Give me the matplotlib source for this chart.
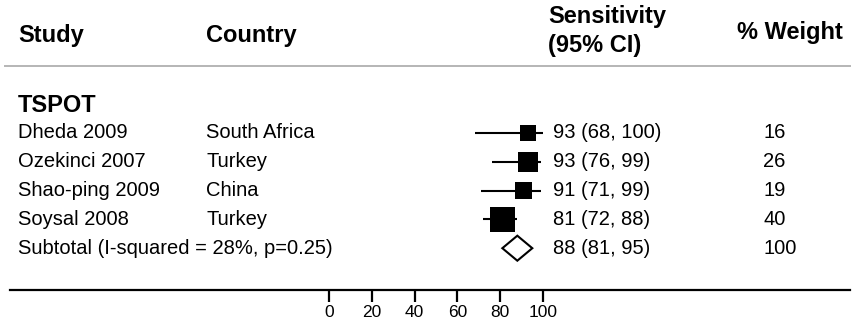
#!/usr/bin/env python3
"""Forest plot: TSPOT sensitivity by study."""

import matplotlib
matplotlib.use("Agg")
import matplotlib.pyplot as plt
from matplotlib.patches import Polygon
from matplotlib.transforms import blended_transform_factory

plt.rcParams["font.family"] = ["Liberation Sans", "DejaVu Sans"]

studies = ["Dheda 2009", "Ozekinci 2007", "Shao-ping 2009", "Soysal 2008"]
countries = ["South Africa", "Turkey", "China", "Turkey"]
sens = [93, 93, 91, 81]
ci_low = [68, 76, 71, 72]
ci_high = [100, 99, 99, 88]
weights = [16, 26, 19, 40]

group = "TSPOT"
subtotal_label = "Subtotal (I-squared = 28%, p=0.25)"
subtotal = (88, 81, 95)
subtotal_weight = 100
xticks = [0, 20, 40, 60, 80, 100]

W, H, DPI = 855, 324, 100
fig = plt.figure(figsize=(W / DPI, H / DPI), dpi=DPI)
# full-width axes; bottom spine is the scale line
ax = fig.add_axes([10 / W, 34 / H, 840 / W, 290 / H])

# 0 -> 329 px, 100 -> 543 px
px_per_unit = 2.14
ax.set_xlim((10 - 329) / px_per_unit, (850 - 329) / px_per_unit)
row_h = 28.8
ax.set_ylim((290 - 133) / row_h, -133 / row_h)


def row_of(px):
    return (px - 133) / row_h


rows = list(range(len(studies)))
sub_row = len(studies)

# confidence intervals and weighted squares
ax.hlines(rows, ci_low, ci_high, color="black", lw=1.5, zorder=2)
side_pt = [2.88 * w ** 0.5 for w in weights]
ax.scatter(sens, rows, marker="s", s=[s * s for s in side_pt], color="black",
           linewidths=0, zorder=3)

# pooled diamond
est, lo, hi = subtotal
half_h = 12.5 / row_h
ax.add_patch(Polygon([(lo, sub_row), (est, sub_row - half_h), (hi, sub_row),
                      (est, sub_row + half_h)], closed=True, facecolor="white",
                     edgecolor="black", lw=1.5, zorder=3))

# scale line
for side in ["top", "left", "right"]:
    ax.spines[side].set_visible(False)
ax.spines["bottom"].set_linewidth(1.6)
ax.set_yticks([])
ax.set_xticks(xticks)
ax.tick_params(axis="x", length=8.5, width=1.6, pad=2.5, labelsize=12.5)

tr = blended_transform_factory(fig.transFigure, ax.transData)
x_study, x_country, x_est, x_wt = 18 / W, 206 / W, 553 / W, 763 / W
body = 14.5
head = 17

# header
ax.text(x_study, row_of(42), "Study", transform=tr, fontsize=head,
        fontweight="bold", va="baseline")
ax.text(x_country, row_of(42), "Country", transform=tr, fontsize=head,
        fontweight="bold", va="baseline")
ax.text(548 / W, row_of(23), "Sensitivity", transform=tr, fontsize=head,
        fontweight="bold", va="baseline")
ax.text(548 / W, row_of(52), "(95% CI)", transform=tr, fontsize=head,
        fontweight="bold", va="baseline")
ax.text(737 / W, row_of(39), "% Weight", transform=tr, fontsize=head,
        fontweight="bold", va="baseline")
ax.plot([5 / W, 850 / W], [row_of(66)] * 2, transform=tr, color="#b5b5b5",
        lw=1.4, clip_on=False)
ax.text(x_study, row_of(112), group, transform=tr, fontsize=head,
        fontweight="bold", va="baseline")

# rows
for r, (name, ctry, s, l, h, w) in enumerate(zip(studies, countries, sens,
                                                   ci_low, ci_high, weights)):
    ax.text(x_study, r, name, transform=tr, fontsize=body, va="center")
    ax.text(x_country, r, ctry, transform=tr, fontsize=body, va="center")
    ax.text(x_est, r, f"{s} ({l}, {h})", transform=tr, fontsize=body,
            va="center")
    ax.text(x_wt, r, f"{w}", transform=tr, fontsize=body, va="center")

ax.text(x_study, sub_row, subtotal_label, transform=tr, fontsize=body,
        va="center")
ax.text(x_est, sub_row, f"{est} ({lo}, {hi})", transform=tr, fontsize=body,
        va="center")
ax.text(x_wt, sub_row, f"{subtotal_weight}", transform=tr, fontsize=body,
        va="center")

fig.savefig("out.png", dpi=DPI)
plt.close(fig)
